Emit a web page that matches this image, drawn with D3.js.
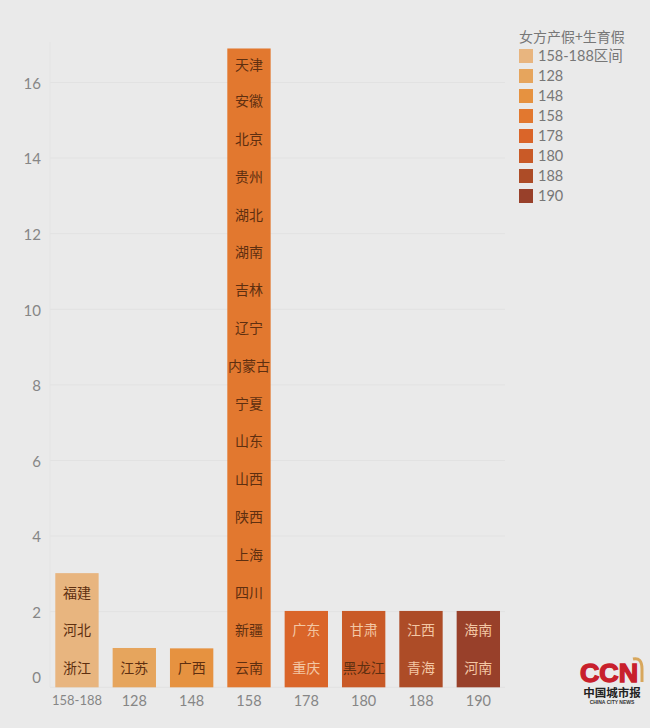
<!DOCTYPE html>
<html><head><meta charset="utf-8">
<script src="https://cdn.jsdelivr.net/npm/d3@7"></script>
<style>html,body{margin:0;padding:0;background:#eaeaea}svg{display:block}</style></head>
<body><svg id="c" width="650" height="728"></svg>
<script>
const categories=["158-188","128","148","158","178","180","188","190"];
const legendLabels=["158-188区间","128","148","158","178","180","188","190"];
const barColors=["#e8b57f","#e6a55d","#e69240","#e2782f","#da6529","#c95a27","#ad4c27","#98402a"];
const barTotals=[3.02,1.04,1.03,16.9,2.02,2.02,2.02,2.02];
const provinces=[
["浙江","河北","福建"],["江苏"],["广西"],
["云南","新疆","四川","上海","陕西","山西","山东","宁夏","内蒙古","辽宁","吉林","湖南","湖北","贵州","北京","安徽","天津"],
["重庆","广东"],["黑龙江","甘肃"],["青海","江西"],["河南","海南"]];
const lightLabels=["重庆","广东","甘肃","青海","江西","河南","海南"];
const yTicks=[0,2,4,6,8,10,12,14,16];
const legendTitle="女方产假+生育假";

const CJK='"Noto Sans CJK SC"', NUM='Lato,"Noto Sans CJK SC"';
const svg=d3.select("#c");
const x=d3.scaleBand().domain(categories).range([48.3,507]).paddingInner(0.244).paddingOuter(0.122);
const y=d3.scaleLinear().domain([0,16]).range([687.3,82.5]);

// axis + grid
const gy=svg.append("g").attr("transform","translate(50,0)")
 .call(d3.axisLeft(y).tickValues(yTicks).tickSize(0).tickPadding(9));
gy.select(".domain").remove();
gy.selectAll("text").attr("font-family",NUM).attr("font-size",15).attr("fill","#868686")
  .attr("dy",d=>d===0?"-0.32em":"0.38em");
svg.append("g").selectAll("line").data(yTicks).join("line")
 .attr("x1",50).attr("x2",505).attr("y1",d=>y(d)).attr("y2",d=>y(d))
 .attr("stroke","#e2e2e2").attr("stroke-width",1);
svg.append("line").attr("x1",50).attr("x2",50).attr("y1",42).attr("y2",687).attr("stroke","#e4e4e4");

// bars
svg.append("g").selectAll("rect").data(categories).join("rect")
 .attr("x",d=>x(d)).attr("width",x.bandwidth())
 .attr("y",(d,i)=>y(barTotals[i])).attr("height",(d,i)=>y(0)-y(barTotals[i]))
 .attr("fill",(d,i)=>barColors[i]);

// province labels
categories.forEach((c,i)=>{
 svg.append("g").selectAll("text").data(provinces[i]).join("text")
  .attr("x",x(c)+x.bandwidth()/2)
  .attr("y",(d,k)=>y((k+Math.min(k+1,barTotals[i]))/2))
  .attr("dy","0.34em").attr("text-anchor","middle")
  .attr("font-family",CJK).attr("font-size",14)
  .attr("fill",d=>lightLabels.includes(d)?"#f3c7a4":"#5e2f10")
  .text(d=>d);
});

// x labels
const gx=svg.append("g").attr("transform","translate(0,687)")
 .call(d3.axisBottom(x).tickSize(0).tickPadding(9));
gx.select(".domain").remove();
gx.selectAll("text").attr("font-family",NUM).attr("font-size",d=>d==="158-188"?13:14.5).attr("fill","#868686");

// legend
const lg=svg.append("g");
lg.append("text").attr("x",519).attr("y",42).attr("font-family",CJK).attr("font-size",14).attr("fill","#777").text(legendTitle);
const ly=d3.scalePoint().domain(legendLabels).range([56,196]);
lg.selectAll("rect").data(legendLabels).join("rect")
 .attr("x",519).attr("y",d=>ly(d)-7).attr("width",14).attr("height",14)
 .attr("fill",(d,i)=>barColors[i]);
lg.selectAll("text.l").data(legendLabels).join("text").attr("class","l")
 .attr("x",538).attr("y",d=>ly(d)).attr("dy","0.37em")
 .attr("font-family",NUM).attr("font-size",14.5).attr("fill","#777").text(d=>d);

// logo
const logo=svg.append("g");
logo.append("text").attr("x",580).attr("y",681.5).attr("font-family","Liberation Sans").attr("font-weight",700)
 .attr("font-size",26).attr("fill","#c8202c").attr("stroke","#c8202c").attr("stroke-width",1.4)
 .attr("textLength",58).attr("lengthAdjust","spacingAndGlyphs").text("CCN");
logo.append("path").attr("d","M633 659 Q642 657 642 669 L642 682").attr("fill","none").attr("stroke","#d8a75c").attr("stroke-width",3);
logo.append("text").attr("x",612).attr("y",697).attr("text-anchor","middle").attr("font-family",CJK).attr("font-weight",700)
 .attr("font-size",11.5).attr("fill","#222").text("中国城市报");
logo.append("text").attr("x",612).attr("y",704).attr("text-anchor","middle").attr("font-family","Liberation Sans").attr("font-weight",700)
 .attr("font-size",5).attr("fill","#333").text("CHINA CITY NEWS");
</script></body></html>
